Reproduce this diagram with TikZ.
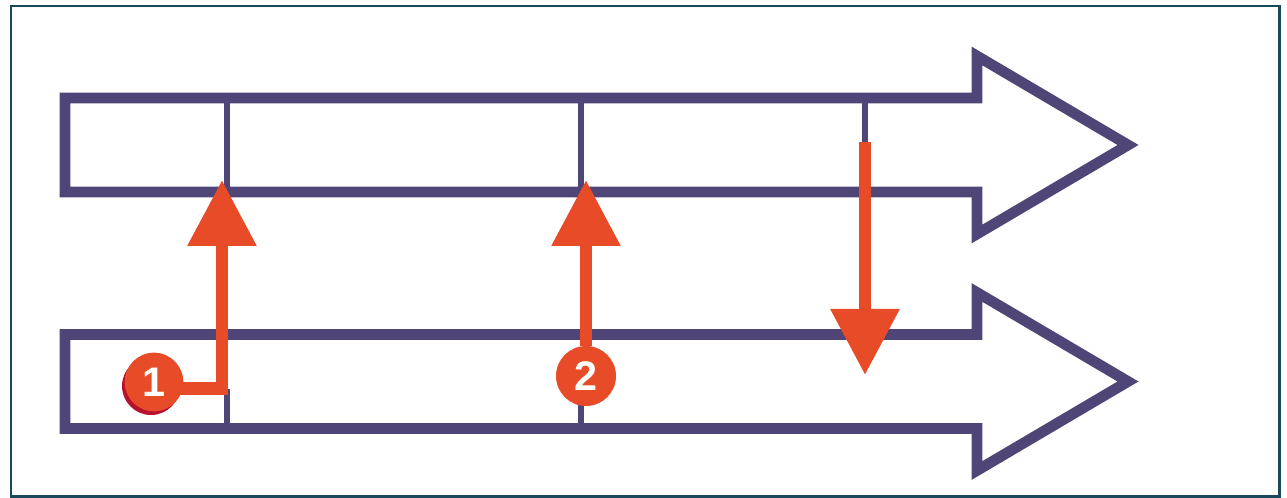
\documentclass[tikz,border=0pt]{standalone}
\usepackage{fontspec}
\setsansfont{Liberation Sans}
\usetikzlibrary{arrows.meta}
\definecolor{trackpurple}{HTML}{4F4577}
\definecolor{markorange}{HTML}{E84B28}
\definecolor{markshadow}{HTML}{B4122D}
\definecolor{framecol}{HTML}{18485A}

\begin{document}
\begin{tikzpicture}[x=0.75pt, y=-0.75pt,
  track/.style={draw=trackpurple, line width=8pt, line join=miter},
  divider/.style={draw=trackpurple, line width=4pt},
  pointer/.style={draw=markorange, line width=9.5pt, line join=miter,
    -{Triangle[length=49.5pt,width=49.5pt]}},
  badge/.style={circle, fill=markorange, text=white, inner sep=0pt,
    minimum size=44pt, font=\sffamily\bfseries\fontsize{31}{31}\selectfont}]
\useasboundingbox (0,0) rectangle (1287,498);
\draw[framecol, line width=1.9pt] (11,6) rectangle (1279.5,496.5);

% the two tracks
\draw[track] (65,98) -- (977,98) -- (977,56) -- (1128,145) -- (977,234) -- (977,192) -- (65,192) -- cycle;
\draw[track] (65,334.5) -- (977,334.5) -- (977,292.5) -- (1128,381.5) -- (977,470.5) -- (977,428.5) -- (65,428.5) -- cycle;

% dividers
\draw[divider] (227,98) -- (227,192);
\draw[divider] (581,98) -- (581,192);
\draw[divider] (865,98) -- (865,142);
\draw[divider] (227,389) -- (227,428.5);
\draw[divider] (581,390) -- (581,428.5);

% badges
\fill[markshadow] (151,386) circle (29);
\node[badge] (num1) at (154,382) {1};
\node[badge, minimum size=45pt] (num2) at (586,376) {2};

% pointers
\coordinate (tip1) at (222,180);
\coordinate (tip2) at (586,180);
\coordinate (from3) at (865,142);
\coordinate (tip3) at (865,375);
\draw[pointer] ([xshift=-6pt,yshift=-5pt]num1.east) -| (tip1);
\draw[pointer] (num2.north) -- (tip2);
\draw[pointer] (from3) -- (tip3);

\end{tikzpicture}
\end{document}
